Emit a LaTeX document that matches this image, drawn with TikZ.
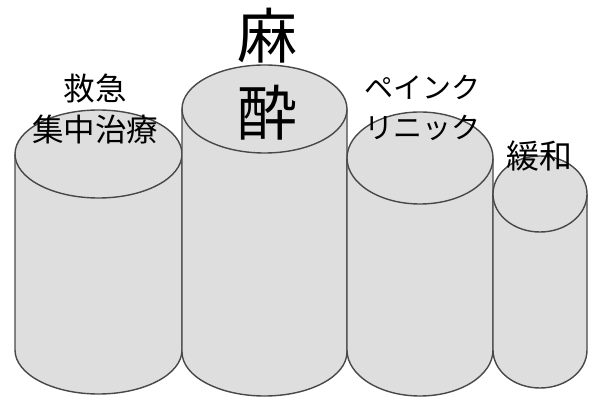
\documentclass[tikz,border=0pt]{standalone}
\usepackage{fontspec}
\newfontfamily\jpfont{Noto Sans CJK JP}
\usetikzlibrary{positioning}
\definecolor{drumfill}{HTML}{DEDEDE}
\definecolor{drumline}{HTML}{484848}
\tikzset{
  drum/.style={fill=drumfill, draw=drumline, line width=1.4pt},
  drumtext/.style={align=center, inner sep=0pt, text=black}
}
\begin{document}
\begin{tikzpicture}[x=1pt,y=1pt]
\useasboundingbox (0,0) rectangle (594,399);
% cylinders: centre x / top y / bottom y / x radius / y radius
\foreach \cx/\ty/\by/\rx/\ry in {98.5/245/49/83.5/44, 264.5/290/47/82.5/44, 420/241/49/73/46, 540/205/49/47/38}{
  \draw[drum] (\cx-\rx,\ty) -- (\cx-\rx,\by) arc[start angle=180, end angle=360, x radius=\rx, y radius=\ry] -- (\cx+\rx,\ty);
  \draw[drum] (\cx,\ty) ellipse[x radius=\rx, y radius=\ry];
}
\node[drumtext, font=\jpfont\fontsize{31.5}{41}\selectfont] (icu) at (95,290) {救急\\集中治療};
\node[drumtext, font=\jpfont\fontsize{60}{77}\selectfont] (masui) at (267,325) {麻\\酔};
\node[drumtext, font=\jpfont\fontsize{29}{40}\selectfont] (pain) at (422,291) {ペインク\\リニック};
\node[drumtext, font=\jpfont\fontsize{33}{40}\selectfont] (kanwa) at (539,243) {緩和};
\end{tikzpicture}
\end{document}
